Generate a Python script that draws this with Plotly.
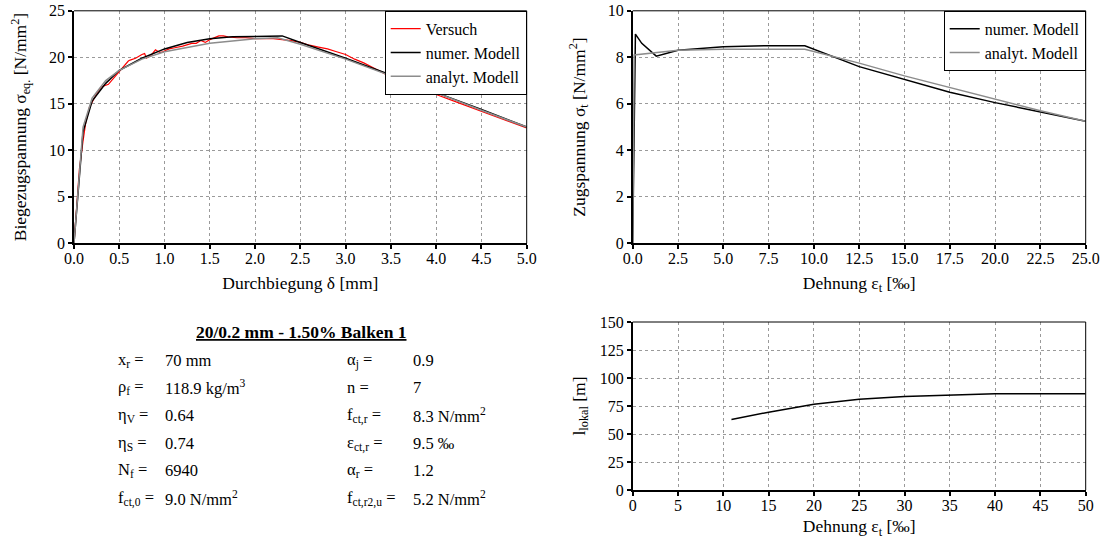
import plotly.graph_objects as go

# --- Biegezugversuch: Spannung ueber Durchbiegung ---
defl_versuch = [0.0, 0.03, 0.06, 0.1, 0.13, 0.17, 0.2, 0.25, 0.3, 0.35, 0.38, 0.45, 0.5, 0.55,
                0.6, 0.62, 0.68, 0.75, 0.78, 0.8, 0.85, 0.9, 0.95, 0.98, 1.05, 1.1, 1.2, 1.3,
                1.35, 1.4, 1.45, 1.5, 1.6, 1.65, 1.7, 1.8, 1.9, 2.0, 2.1, 2.2, 2.3, 2.4, 2.5,
                2.6, 2.7, 2.8, 2.9, 3.0, 3.1, 3.2, 3.3, 3.4, 3.5, 3.6, 3.7, 3.8, 3.9, 4.0,
                4.25, 4.5, 4.75, 5.0]
sig_versuch = [0.0, 4.0, 8.0, 11.0, 13.0, 14.6, 15.2, 16.1, 16.8, 17.0, 17.1, 17.9, 18.5, 19.0,
               19.6, 19.7, 19.9, 20.3, 20.4, 19.9, 20.2, 20.8, 20.5, 20.6, 20.9, 21.0, 21.2, 21.5,
               21.5, 21.8, 21.6, 21.9, 22.3, 22.3, 22.2, 22.1, 22.1, 22.0, 22.0, 22.0, 21.9, 21.8, 21.6,
               21.3, 21.1, 20.9, 20.6, 20.3, 19.8, 19.4, 18.9, 18.4, 17.9, 17.5, 17.1, 16.7, 16.4, 16.0,
               15.1, 14.2, 13.3, 12.4]

defl_numer = [0.0, 0.1, 0.2, 0.35, 0.5, 0.75, 1.0, 1.25, 1.5, 1.75, 2.0, 2.3, 2.5, 3.0, 3.5,
              4.0, 4.5, 5.0]
sig_numer = [0.0, 12.0, 15.3, 17.2, 18.6, 19.9, 20.9, 21.6, 22.0, 22.2, 22.25, 22.3, 21.6, 19.9,
             18.1, 16.2, 14.4, 12.5]

defl_analyt = [0.0, 0.1, 0.2, 0.35, 0.5, 0.75, 1.0, 1.5, 2.0, 2.25, 2.5, 3.0, 3.5, 4.0, 4.5, 5.0]
sig_analyt = [0.0, 12.5, 15.6, 17.5, 18.6, 19.8, 20.6, 21.5, 22.0, 22.1, 21.4, 19.8, 18.0,
              16.2, 14.3, 12.5]

# --- Spannungs-Dehnungs-Beziehung ---
eps_numer = [0.0, 0.15, 0.5, 1.3, 2.5, 5.0, 7.5, 9.5, 12.5, 15.0, 17.5, 20.0, 22.5, 25.0]
sig_t_numer = [0.0, 9.0, 8.6, 8.05, 8.3, 8.45, 8.5, 8.5, 7.6, 7.05, 6.5, 6.05, 5.65, 5.25]

eps_analyt = [0.0, 0.08, 2.5, 5.0, 9.5, 12.5, 15.0, 17.5, 20.0, 22.5, 25.0]
sig_t_analyt = [0.0, 8.1, 8.3, 8.35, 8.35, 7.75, 7.2, 6.7, 6.2, 5.7, 5.25]

# --- Lokalisierungslaenge ---
eps_lokal = [10.9, 15.0, 20.0, 25.0, 30.0, 35.0, 40.0, 45.0, 50.0]
l_lokal = [63.0, 69.5, 76.5, 81.0, 83.5, 85.0, 86.0, 86.0, 86.0]

# --- Kennwerte ---
title_text = "20/0.2 mm - 1.50% Balken 1"
left_labels = ["x<sub>r</sub> =", "ρ<sub>f</sub> =", "η<sub>V</sub> =", "η<sub>S</sub> =",
               "N<sub>f</sub> =", "f<sub>ct,0</sub> ="]
left_values = ["70 mm", "118.9 kg/m<sup>3</sup>", "0.64", "0.74", "6940", "9.0 N/mm<sup>2</sup>"]
right_labels = ["α<sub>j</sub> =", "n =", "f<sub>ct,r</sub> =", "ε<sub>ct,r</sub> =",
                "α<sub>r</sub> =", "f<sub>ct,r2,u</sub> ="]
right_values = ["0.9", "7", "8.3 N/mm<sup>2</sup>", "9.5 ‰", "1.2", "5.2 N/mm<sup>2</sup>"]

FONT = "Times New Roman, Liberation Serif, Times, serif"
W, H = 1104, 544
GRAY = "#8c8c8c"

fig = go.Figure()

fig.add_trace(go.Scatter(x=defl_versuch, y=sig_versuch, mode="lines", name="Versuch",
                         line=dict(color="#ff0000", width=1.2), xaxis="x", yaxis="y",
                         legend="legend"))
fig.add_trace(go.Scatter(x=defl_numer, y=sig_numer, mode="lines", name="numer. Modell",
                         line=dict(color="#000000", width=1.5), xaxis="x", yaxis="y",
                         legend="legend"))
fig.add_trace(go.Scatter(x=defl_analyt, y=sig_analyt, mode="lines", name="analyt. Modell",
                         line=dict(color=GRAY, width=1.5), xaxis="x", yaxis="y",
                         legend="legend"))

fig.add_trace(go.Scatter(x=eps_numer, y=sig_t_numer, mode="lines", name="numer. Modell",
                         line=dict(color="#000000", width=1.5), xaxis="x2", yaxis="y2",
                         legend="legend2"))
fig.add_trace(go.Scatter(x=eps_analyt, y=sig_t_analyt, mode="lines", name="analyt. Modell",
                         line=dict(color=GRAY, width=1.5), xaxis="x2", yaxis="y2",
                         legend="legend2"))

fig.add_trace(go.Scatter(x=eps_lokal, y=l_lokal, mode="lines", showlegend=False,
                         line=dict(color="#000000", width=1.5), xaxis="x3", yaxis="y3"))


def px_dom(a, b):
    return [a / W, b / W]


def py_dom(top, bottom):
    return [1 - bottom / H, 1 - top / H]


axis_common = dict(
    showline=True, linecolor="black", linewidth=1.5, mirror=False, automargin=False,
    ticks="outside", ticklen=4, tickcolor="black", tickwidth=1.5,
    showgrid=True, gridcolor="#9a9a9a", gridwidth=1, griddash="3px,3px",
    zeroline=False, tickfont=dict(family=FONT, size=16, color="black"),
    title_font=dict(family=FONT, size=17.5, color="black"),
)
x_extra = dict(ticklabelstandoff=-4)

LEFT_X = (74, 526.7)
RIGHT_X = (632.7, 1085.7)
TOP_Y = (10.8, 243.3)
BOT_Y = (322, 490)

fig.update_layout(
    width=W, height=H, margin=dict(l=0, r=0, t=0, b=0, autoexpand=False),
    paper_bgcolor="white", plot_bgcolor="white",
    font=dict(family=FONT, size=16, color="black"),
    xaxis=dict(domain=px_dom(*LEFT_X), range=[0, 5], dtick=0.5, tickformat=".1f",
               title=dict(text="Durchbiegung δ [mm]", standoff=10), anchor="y",
               **axis_common, **x_extra),
    yaxis=dict(domain=py_dom(*TOP_Y), range=[0, 25], dtick=5,
               title=dict(text="Biegezugspannung σ<sub>eq.</sub> [N/mm<sup>2</sup>]", standoff=18),
               anchor="x", **axis_common),
    xaxis2=dict(domain=px_dom(*RIGHT_X), range=[0, 25], dtick=2.5, tickformat=".1f",
                title=dict(text="Dehnung ε<sub>t</sub> [‰]", standoff=10), anchor="y2",
                **axis_common, **x_extra),
    yaxis2=dict(domain=py_dom(*TOP_Y), range=[0, 10], dtick=2,
                title=dict(text="Zugspannung σ<sub>t</sub> [N/mm<sup>2</sup>]", standoff=18),
                anchor="x2", **axis_common),
    xaxis3=dict(domain=px_dom(*RIGHT_X), range=[0, 50], dtick=5,
                title=dict(text="Dehnung ε<sub>t</sub> [‰]", standoff=7), anchor="y3",
                **axis_common, **x_extra),
    yaxis3=dict(domain=py_dom(*BOT_Y), range=[0, 150], dtick=25,
                title=dict(text="l<sub>lokal</sub> [m]", standoff=10), anchor="x3",
                **axis_common),
    legend=dict(x=LEFT_X[1] / W, y=1 - TOP_Y[0] / H, xanchor="right", yanchor="top",
                bgcolor="white", bordercolor="black", borderwidth=1,
                font=dict(family=FONT, size=16), tracegroupgap=0, itemwidth=30),
    legend2=dict(x=RIGHT_X[1] / W, y=1 - TOP_Y[0] / H, xanchor="right", yanchor="top",
                 bgcolor="white", bordercolor="black", borderwidth=1,
                 font=dict(family=FONT, size=16), tracegroupgap=0, itemwidth=30),
)

# duenner Rahmen oben und rechts
shapes = []
for xa, ya in (("x", "y"), ("x2", "y2"), ("x3", "y3")):
    shapes.append(dict(type="line", xref=f"{xa} domain", yref=f"{ya} domain",
                       x0=0, x1=1, y0=1, y1=1, line=dict(color="black", width=1)))
    shapes.append(dict(type="line", xref=f"{xa} domain", yref=f"{ya} domain",
                       x0=1, x1=1, y0=0, y1=1, line=dict(color="black", width=1)))
fig.update_layout(shapes=shapes)

# Kennwerttabelle unten links
annotations = [dict(text=f"<b><u>{title_text}</u></b>", x=301 / W, y=1 - 332 / H,
                    xref="paper", yref="paper", showarrow=False, xanchor="center",
                    yanchor="middle", font=dict(family=FONT, size=17.5, color="black"))]
row_y = [360, 387, 415, 443, 470, 498]
for i, yy in enumerate(row_y):
    for text, xx in ((left_labels[i], 116), (left_values[i], 163),
                     (right_labels[i], 345), (right_values[i], 411)):
        annotations.append(dict(text=text, x=xx / W, y=1 - yy / H, xref="paper", yref="paper",
                                showarrow=False, xanchor="left", yanchor="middle",
                                font=dict(family=FONT, size=16.5, color="black")))
fig.update_layout(annotations=annotations)

fig.write_html("out.html")
